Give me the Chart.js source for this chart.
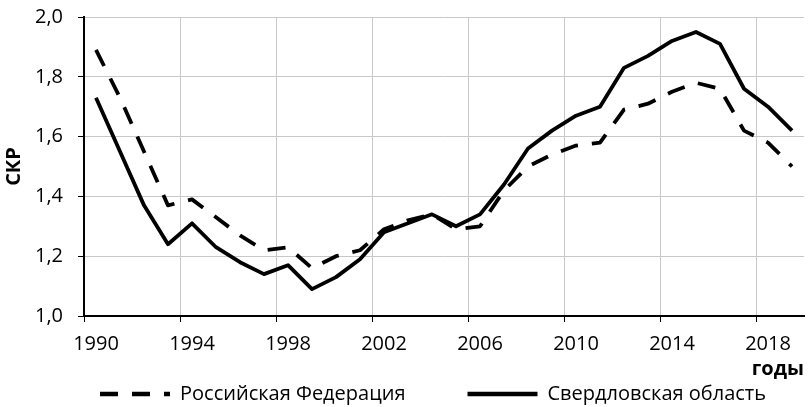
<!DOCTYPE html>
<html>
<head>
<meta charset="utf-8">
<script src="https://cdn.jsdelivr.net/npm/chart.js@4"></script>
<style>
  html, body { margin: 0; padding: 0; background: #fff; }
  #wrap { width: 812px; height: 407px; }
</style>
</head>
<body>
<div id="wrap"><canvas id="myChart"></canvas></div>
<script>
const years = ['1990', '1991', '1992', '1993', '1994', '1995', '1996', '1997', '1998', '1999',
  '2000', '2001', '2002', '2003', '2004', '2005', '2006', '2007', '2008', '2009',
  '2010', '2011', '2012', '2013', '2014', '2015', '2016', '2017', '2018', '2019']

// СКР, Российская Федерация
const russia = [1.89, 1.73, 1.55, 1.37, 1.39, 1.33, 1.27, 1.22, 1.23, 1.16,
  1.20, 1.22, 1.29, 1.32, 1.34, 1.29, 1.30, 1.42, 1.50, 1.54,
  1.57, 1.58, 1.69, 1.71, 1.75, 1.78, 1.76, 1.62, 1.58, 1.50]

// СКР, Свердловская область
const sverdlovsk = [1.73, 1.55, 1.37, 1.24, 1.31, 1.23, 1.18, 1.14, 1.17, 1.09,
  1.13, 1.19, 1.28, 1.31, 1.34, 1.30, 1.34, 1.44, 1.56, 1.62,
  1.67, 1.70, 1.83, 1.87, 1.92, 1.95, 1.91, 1.76, 1.70, 1.62]

const seriesNames = ['Российская Федерация', 'Свердловская область']
const yTicks = ['1,0', '1,2', '1,4', '1,6', '1,8', '2,0']

const FONT = "'Open Sans', sans-serif"
const GRID = '#c8c8c8'
const LEGEND_GAP = 62

// legend row sits left-aligned under the plot, a bit lower than chart.js puts it
const placeLegend = {
  id: 'placeLegend',
  afterLayout(chart) {
    const lg = chart.legend
    lg.left = 100 - LEGEND_GAP
    lg.right = 1000
    lg.top = 384 - LEGEND_GAP
  }
}

new Chart(document.querySelector('#myChart'), {
  type: 'line',
  data: {
    labels: years,
    datasets: [{
      label: seriesNames[0],
      data: russia,
      borderColor: '#000',
      backgroundColor: '#000',
      borderWidth: 3.8,
      borderDash: [18, 14],
      borderJoinStyle: 'round',
      pointRadius: 0,
      tension: 0
    }, {
      label: seriesNames[1],
      data: sverdlovsk,
      borderColor: '#000',
      backgroundColor: '#000',
      borderWidth: 3.8,
      borderJoinStyle: 'round',
      pointRadius: 0,
      tension: 0
    }]
  },
  options: {
    responsive: true,
    maintainAspectRatio: false,
    animation: false,
    layout: { padding: { top: 17, right: 8, bottom: 0, left: 0 } },
    plugins: {
      tooltip: { enabled: false },
      legend: {
        position: 'bottom',
        align: 'start',
        maxHeight: 24,
        labels: {
          font: { family: FONT, size: 20 },
          color: '#000',
          usePointStyle: true,
          pointStyleWidth: 70,
          padding: LEGEND_GAP,
          generateLabels(chart) {
            return Chart.defaults.plugins.legend.labels.generateLabels(chart).map(item => {
              const ds = chart.data.datasets[item.datasetIndex]
              item.pointStyle = 'line'
              item.lineWidth = 4.5
              item.strokeStyle = '#000'
              item.lineDash = ds.borderDash || []
              return item
            })
          }
        }
      }
    },
    scales: {
      x: {
        type: 'category',
        offset: true,
        afterFit: scale => { scale.height = 67 },
        grid: {
          offset: true,
          lineWidth: 1,
          color: ctx => ctx.index % 4 === 0 ? GRID : 'rgba(0,0,0,0)',
          tickColor: ctx => ctx.index % 4 === 0 ? '#000' : 'rgba(0,0,0,0)',
          tickLength: 6
        },
        border: { color: '#000', width: 2 },
        ticks: {
          autoSkip: false,
          maxRotation: 0,
          padding: 10,
          color: '#000',
          font: { family: FONT, size: 20 },
          callback: (v, i) => i % 4 === 0 ? years[i] : ''
        },
        title: {
          display: true,
          text: 'годы',
          align: 'end',
          color: '#000',
          font: { family: FONT, size: 20, weight: 'bold' },
          padding: { top: 0, bottom: 2 }
        }
      },
      y: {
        min: 1.0,
        max: 2.0,
        afterFit: scale => {
          scale.width = 84
          // top/bottom room is set by layout padding, not by tick labels
          scale.paddingTop = 0
          scale.paddingBottom = 0
        },
        grid: { lineWidth: 1, color: GRID, tickColor: '#000', tickLength: 6 },
        border: { color: '#000', width: 2 },
        ticks: {
          stepSize: 0.2,
          color: '#000',
          padding: 15,
          font: { family: FONT, size: 20 },
          callback: v => yTicks[Math.round((v - 1) * 5)]
        },
        title: {
          display: true,
          text: 'СКР',
          color: '#000',
          font: { family: FONT, size: 20, weight: 'bold' },
          padding: { top: 2, bottom: 0 }
        }
      }
    }
  },
  plugins: [placeLegend]
})
</script>
</body>
</html>
